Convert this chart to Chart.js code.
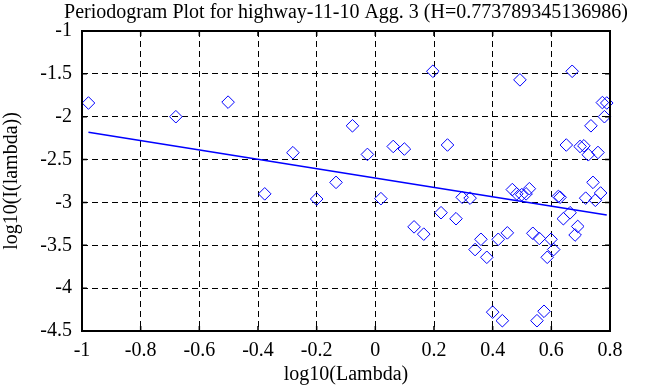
<!DOCTYPE html>
<html>
<head>
<meta charset="utf-8">
<script src="https://cdn.jsdelivr.net/npm/chart.js@4/dist/chart.umd.min.js"></script>
<style>
  html, body { margin: 0; padding: 0; background: #fff; }
  canvas { display: block; }
</style>
</head>
<body>
<canvas id="periodogramChart" width="668" height="387"></canvas>
<script>
const titleText = "Periodogram Plot for highway-11-10 Agg. 3 (H=0.773789345136986)";

const logLambda = [
  -0.978, -0.68, -0.502, -0.377, -0.281, -0.2, -0.134, -0.078, -0.027, 0.019,
  0.061, 0.099, 0.132, 0.165, 0.196, 0.224, 0.246, 0.275, 0.296, 0.323,
  0.34, 0.36, 0.38, 0.4, 0.419, 0.433, 0.45, 0.467, 0.482, 0.493,
  0.499, 0.514, 0.525, 0.537, 0.551, 0.559, 0.575, 0.586, 0.599, 0.608,
  0.624, 0.63, 0.641, 0.651, 0.664, 0.671, 0.681, 0.69, 0.698, 0.711,
  0.717, 0.726, 0.735, 0.742, 0.75, 0.759, 0.768, 0.774, 0.781, 0.789
];
const logI = [
  -1.84, -2.0, -1.83, -2.9, -2.42, -2.96, -2.766, -2.106, -2.44, -2.956,
  -2.347, -2.377, -3.285, -3.37, -1.47, -3.12, -2.33, -3.19, -2.94, -2.95,
  -3.55, -3.43, -3.64, -4.28, -3.43, -4.38, -3.355, -2.85, -2.9, -1.57,
  -2.91, -2.9, -2.84, -3.36, -4.38, -3.42, -4.27, -3.64, -3.43, -3.55,
  -2.93, -2.94, -3.19, -2.33, -3.12, -1.47, -3.38, -3.28, -2.347, -2.34,
  -2.95, -2.444, -2.106, -2.766, -2.975, -2.417, -2.89, -1.835, -2.0, -1.84
];

// least squares fit line endpoints
const fitX = [-0.978, 0.789];
const fitY = [-2.18, -3.147];

const xTicks = [-1, -0.8, -0.6, -0.4, -0.2, 0, 0.2, 0.4, 0.6, 0.8];
const yTicks = [-4.5, -4, -3.5, -3, -2.5, -2, -1.5, -1];

const serif = "'Liberation Serif', 'DejaVu Serif', serif";
const fontSize = 20;

// box around the plot with inward tick marks, title centred over the plot
const framePlugin = {
  id: "frame",
  afterDraw(chart) {
    const { ctx, chartArea: a, scales } = chart;
    ctx.save();
    ctx.strokeStyle = "#000";
    ctx.lineWidth = 1.5;
    ctx.beginPath();
    scales.x.ticks.forEach((t) => {
      const px = scales.x.getPixelForValue(t.value);
      ctx.moveTo(px, a.bottom);
      ctx.lineTo(px, a.bottom - 5);
      ctx.moveTo(px, a.top);
      ctx.lineTo(px, a.top + 5);
    });
    scales.y.ticks.forEach((t) => {
      const py = scales.y.getPixelForValue(t.value);
      ctx.moveTo(a.left, py);
      ctx.lineTo(a.left + 5, py);
      ctx.moveTo(a.right, py);
      ctx.lineTo(a.right - 5, py);
    });
    ctx.stroke();
    ctx.lineWidth = 2;
    ctx.strokeRect(a.left, a.top, a.right - a.left, a.bottom - a.top);

    ctx.fillStyle = "#000";
    ctx.font = fontSize + "px " + serif;
    ctx.textAlign = "center";
    ctx.textBaseline = "middle";
    ctx.fillText(titleText, (a.left + a.right) / 2, a.top - 18);
    ctx.restore();
  },
};

const ctx = document.getElementById("periodogramChart").getContext("2d");

new Chart(ctx, {
  type: "scatter",
  data: {
    datasets: [
      {
        label: "periodogram",
        data: logLambda.map((x, i) => ({ x: x, y: logI[i] })),
        pointStyle: "rectRot",
        pointRadius: 6.3,
        borderColor: "#0000ff",
        backgroundColor: "rgba(0,0,0,0)",
        borderWidth: 1,
        clip: false,
      },
      {
        type: "line",
        label: "fit",
        data: fitX.map((x, i) => ({ x: x, y: fitY[i] })),
        borderColor: "#0000ff",
        borderWidth: 1.5,
        pointRadius: 0,
        fill: false,
      },
    ],
  },
  options: {
    responsive: false,
    animation: false,
    layout: { padding: { left: 0, right: 58, top: 31, bottom: 0 } },
    plugins: {
      legend: { display: false },
      tooltip: { enabled: false },
      title: { display: false },
    },
    scales: {
      x: {
        type: "linear",
        min: -1,
        max: 0.8,
        afterBuildTicks: (s) => {
          s.ticks = xTicks.map((v) => ({ value: v }));
        },
        afterFit: (s) => {
          s.height = 56;
        },
        grid: { color: "#000", lineWidth: 1, drawTicks: false },
        border: { display: false, dash: [6, 4] },
        ticks: {
          color: "#000",
          padding: 8,
          font: { family: serif, size: fontSize },
          callback: (v) => String(Math.round(v * 10) / 10),
        },
        title: {
          display: true,
          text: "log10(Lambda)",
          color: "#000",
          font: { family: serif, size: fontSize },
          padding: { top: 0, bottom: 0 },
        },
      },
      y: {
        type: "linear",
        min: -4.5,
        max: -1,
        afterBuildTicks: (s) => {
          s.ticks = yTicks.map((v) => ({ value: v }));
        },
        afterFit: (s) => {
          s.width = 82;
        },
        grid: { color: "#000", lineWidth: 1, drawTicks: false },
        border: { display: false, dash: [6, 4] },
        ticks: {
          color: "#000",
          padding: 10,
          font: { family: serif, size: fontSize },
          callback: (v) => String(Math.round(v * 10) / 10),
        },
        title: {
          display: true,
          text: "log10(I(lambda))",
          color: "#000",
          font: { family: serif, size: fontSize },
          padding: { top: 0, bottom: 0 },
        },
      },
    },
  },
  plugins: [framePlugin],
});
</script>
</body>
</html>
